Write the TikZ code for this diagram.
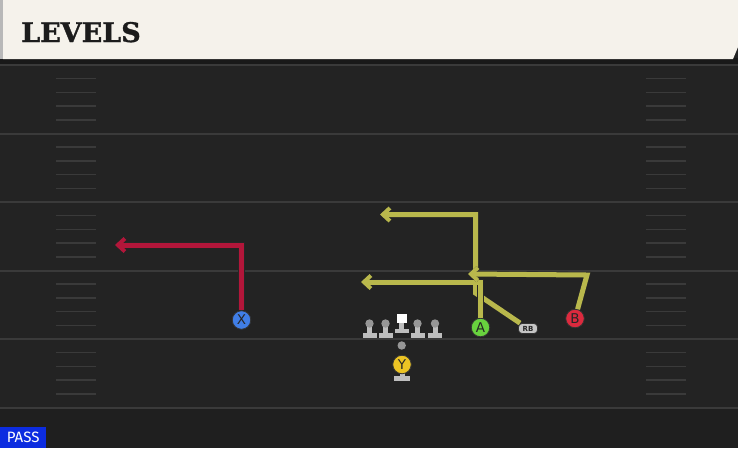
\documentclass[tikz,border=0pt]{standalone}
\usepackage{fontspec}
\usepackage{tikz}
\usetikzlibrary{arrows.meta}
\setmainfont{DejaVu Sans}
\newfontfamily\titlefont[BoldFont={DejaVu Serif Bold},BoldFeatures={FakeBold=1.2}]{DejaVu Serif}
\newfontfamily\passfont{Fira Sans}
\definecolor{field}{RGB}{35,35,35}
\definecolor{fieldlow}{RGB}{31,31,31}
\definecolor{yardgray}{RGB}{58,58,58}
\definecolor{paper}{RGB}{245,242,235}
\definecolor{titleink}{RGB}{28,28,28}
\definecolor{routeyel}{RGB}{185,184,76}
\definecolor{routered}{RGB}{178,22,58}
\definecolor{cA}{RGB}{104,210,62}
\definecolor{cB}{RGB}{220,42,62}
\definecolor{cX}{RGB}{64,126,230}
\definecolor{cY}{RGB}{236,196,36}
\definecolor{lmgray}{RGB}{190,190,190}
\definecolor{lmhead}{RGB}{150,150,150}
\definecolor{passblue}{RGB}{12,44,224}
\tikzset{
  yard/.style={draw=yardgray,line width=2pt},
  hash/.style={draw=yardgray,line width=1.5pt},
  route/.style={line width=5pt,draw=#1,-{Straight Barb[length=7pt,width=13pt,line width=4pt]},
    preaction={draw=black!85,line width=6.2pt}},
  route/.default=routeyel,
  player/.style={circle,draw=black!80,line width=.8pt,minimum size=18.5pt,inner sep=0pt,
    font=\fontsize{13.5}{13.5}\selectfont,text=black!85},
  rbox/.style={rectangle,rounded corners=3.5pt,fill=lmgray!90,draw=black!80,line width=.8pt,
    minimum width=19pt,minimum height=10pt,inner sep=0pt,font=\bfseries\fontsize{7}{7}\selectfont,text=black!85}
}
\begin{document}
\begin{tikzpicture}[x=1pt,y=-1pt]
\useasboundingbox (0,0) rectangle (738,448);
\fill[field] (0,0) rectangle (738,448);
\fill[fieldlow] (0,408) rectangle (738,448);
\fill[black!90] (0,58) rectangle (738,64);
\fill[paper] (3,0) -- (738,0) -- (738,47) -- (733,59) -- (3,59) -- cycle;
\fill[black!28] (0,0) rectangle (3,59);
\node[anchor=base west,font=\titlefont\bfseries\fontsize{27}{27}\selectfont,text=titleink,inner sep=0pt](title)at(21,42){LEVELS};
\foreach \y in {65,133.5,202,270.5,339,407.5}
  \draw[yard] (0,\y) -- (738,\y);
\foreach \k in {0,...,4}
  \foreach \j in {1,...,4}{
    \draw[hash] (56,65+68.5*\k+13.7*\j) -- (96,65+68.5*\k+13.7*\j);
    \draw[hash] (646,65+68.5*\k+13.7*\j) -- (686,65+68.5*\k+13.7*\j);
  }
\foreach \x in {369.5,385.5,417.5,435}{
  \fill[lmgray] (\x-2.5,324) rectangle (\x+2.5,334);
  \fill[lmgray] (\x-7,333) rectangle (\x+7,337.5);
  \fill[lmhead] (\x,323.5) circle (4.2pt);
}
\fill[lmgray] (399.2,322) rectangle (404.2,330);
\fill[lmgray] (394.7,329) rectangle (408.7,333);
\fill[white] (396.7,314) rectangle (406.7,323);
\fill[lmhead] (401.7,345.5) circle (4.2pt);
\fill[lmgray] (399.5,372) rectangle (404.5,377);
\fill[lmgray] (394,376) rectangle (410,381);
\node[player,fill=cX](X)at(241.5,320){X};
\node[player,fill=cA](A)at(480.5,327.5){A};
\node[player,fill=cB](B)at(575,318.5){B};
\node[player,fill=cY](Y)at(402,364.5){Y};
\node[rbox](RB)at(528,328.5){RB};
\coordinate (x1) at (241.5,245);
\coordinate (x2) at (115,245);
\coordinate (r1) at (475.5,293);
\coordinate (r2) at (475.5,214.5);
\coordinate (r3) at (380,214.5);
\coordinate (a1) at (480.5,282);
\coordinate (a2) at (361,282);
\coordinate (b1) at (587,275);
\coordinate (b2) at (468,274);
\draw[route=routered] (X) -- (x1) -- (x2);
\draw[route] (RB) -- (r1) -- (r2) -- (r3);
\draw[route] (A) -- (a1) -- (a2);
\draw[route] (B) -- (b1) -- (b2);
\node[anchor=south west,fill=passblue,text=white,minimum width=46pt,minimum height=21pt,inner sep=0pt,font=\passfont\fontsize{15}{15}\selectfont](pass)at(0,448){PASS};
\end{tikzpicture}
\end{document}
